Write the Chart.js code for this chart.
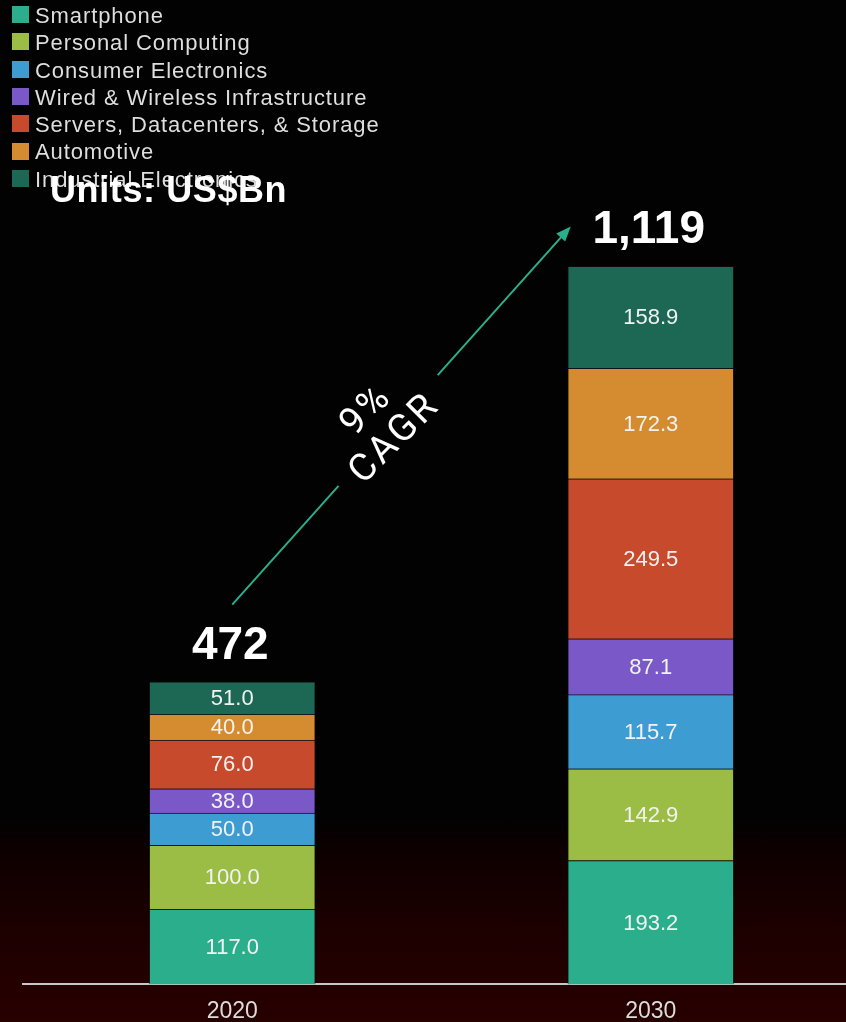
<!DOCTYPE html>
<html>
<head>
<meta charset="utf-8">
<script src="https://cdn.jsdelivr.net/npm/chart.js@4.4.1/dist/chart.umd.min.js"></script>
<style>
  html, body {
    margin: 0; padding: 0; width: 846px; height: 1022px; overflow: hidden;
    background: linear-gradient(to bottom, #020202 0%, #020202 80%, #0d0000 83%, #1b0000 90%, #240000 96%, #270000 100%);
  }
  #wrap { position: absolute; left: 0; top: 0; width: 860px; height: 1022px; }
  #legend {
    position: absolute; left: 12px; top: 2px;
    font-family: "Liberation Sans", Arial, sans-serif; font-size: 22px; letter-spacing: 0.9px; color: #dedede;
  }
  .item { position: relative; height: 27.3px; line-height: 27.3px; white-space: nowrap; padding-left: 23px; }
  .item .box { position: absolute; left: 0; top: 4.2px; width: 17px; height: 17px; }
  #units {
    position: absolute; left: 50px; top: 172px;
    font-family: "Liberation Sans", Arial, sans-serif; font-weight: bold; letter-spacing: 0.6px;
    font-size: 36px; line-height: 36px; color: #ffffff; white-space: nowrap;
  }
</style>
</head>
<body>
<div id="wrap"><canvas id="market" width="860" height="1022"></canvas></div>
<div id="legend"></div>
<div id="units">Units: US$Bn</div>
<script>
// data
const years = ['2020', '2030'];
const segments = ['Smartphone', 'Personal Computing', 'Consumer Electronics',
  'Wired & Wireless Infrastructure', 'Servers, Datacenters, & Storage',
  'Automotive', 'Industrial Electronics'];
const smartphone = [117.0, 193.2];
const personalComputing = [100.0, 142.9];
const consumerElectronics = [50.0, 115.7];
const infrastructure = [38.0, 87.1];
const servers = [76.0, 249.5];
const automotive = [40.0, 172.3];
const industrial = [51.0, 158.9];
const totalLabels = ['472', '1,119'];
const cagrLines = ['9%', 'CAGR'];

const colors = ['#2aae8c', '#9bbd45', '#3d9dd2', '#7b58c8', '#c84a2c', '#d58c30', '#1d6854'];
const values = [smartphone, personalComputing, consumerElectronics, infrastructure, servers, automotive, industrial];

// legend
const legendBox = document.getElementById('legend');
segments.forEach((s, i) => {
  const row = document.createElement('div');
  row.className = 'item';
  row.innerHTML = '<span class="box" style="background:' + colors[i] + '"></span>' + s;
  legendBox.appendChild(row);
});

const overlay = {
  id: 'overlay',
  afterDatasetsDraw(chart) {
    const ctx = chart.ctx;
    ctx.save();
    // segment values
    ctx.fillStyle = '#f2f2f2';
    ctx.font = '22px "Liberation Sans", Arial, sans-serif';
    ctx.textAlign = 'center';
    ctx.textBaseline = 'middle';
    chart.data.datasets.forEach((ds, i) => {
      chart.getDatasetMeta(i).data.forEach((bar, j) => {
        ctx.fillText(ds.data[j].toFixed(1), bar.x, (bar.y + bar.base) / 2 + 1);
      });
    });

    // totals on top of the stacks
    const top = chart.getDatasetMeta(chart.data.datasets.length - 1).data;
    ctx.fillStyle = '#ffffff';
    ctx.font = 'bold 46px "Liberation Sans", Arial, sans-serif';
    ctx.textBaseline = 'alphabetic';
    top.forEach((bar, j) => ctx.fillText(totalLabels[j], bar.x - 2, bar.y - 23));

    // CAGR arrow
    const a = top[0], b = top[1];
    const x0 = a.x, y0 = a.y - 77;
    const x1 = b.x - b.width / 2 + 3, y1 = b.y - 40;
    const dx = x1 - x0, dy = y1 - y0;
    const len = Math.hypot(dx, dy);
    const ux = dx / len, uy = dy / len;
    const pt = t => [x0 + dx * t, y0 + dy * t];
    ctx.strokeStyle = '#2aae8c';
    ctx.fillStyle = '#2aae8c';
    ctx.lineWidth = 2;
    ctx.beginPath();
    let p = pt(0), q = pt(0.314);
    ctx.moveTo(p[0], p[1]); ctx.lineTo(q[0], q[1]);
    p = pt(0.607); q = [x1 - ux * 12, y1 - uy * 12];
    ctx.moveTo(p[0], p[1]); ctx.lineTo(q[0], q[1]);
    ctx.stroke();
    ctx.beginPath();
    ctx.moveTo(x1, y1);
    ctx.lineTo(x1 - ux * 15 - uy * 6, y1 - uy * 15 + ux * 6);
    ctx.lineTo(x1 - ux * 15 + uy * 6, y1 - uy * 15 - ux * 6);
    ctx.closePath();
    ctx.fill();

    const c = pt(0.44);
    ctx.translate(c[0], c[1] - 13);
    ctx.rotate(-Math.PI / 4);
    ctx.fillStyle = '#ffffff';
    ctx.font = '38px Roboto, "Liberation Sans", sans-serif';
    ctx.letterSpacing = '3px';
    ctx.textAlign = 'center';
    ctx.textBaseline = 'middle';
    ctx.fillText(cagrLines[0], 0, -20);
    ctx.fillText(cagrLines[1], 0, 20);
    ctx.restore();
  }
};

new Chart(document.getElementById('market'), {
  type: 'bar',
  data: {
    labels: years,
    datasets: segments.map((s, i) => ({
      label: s,
      data: values[i],
      backgroundColor: colors[i],
      borderColor: 'rgba(20,20,20,0.55)',
      borderWidth: 1,
      barThickness: 166
    }))
  },
  options: {
    responsive: false,
    devicePixelRatio: 1,
    animation: false,
    layout: { padding: { left: 23, right: 0, top: 0, bottom: -16 } },
    plugins: { legend: { display: false }, tooltip: { enabled: false } },
    scales: {
      x: {
        stacked: true,
        grid: { display: false, drawTicks: false },
        border: { display: true, color: '#c8c8c8', width: 2 },
        ticks: { color: '#dcdcdc', padding: 13, font: { family: '"Liberation Sans", Arial, sans-serif', size: 23 } }
      },
      y: { stacked: true, display: false, min: 0, max: 1535 }
    }
  },
  plugins: [overlay]
});
</script>
</body>
</html>
